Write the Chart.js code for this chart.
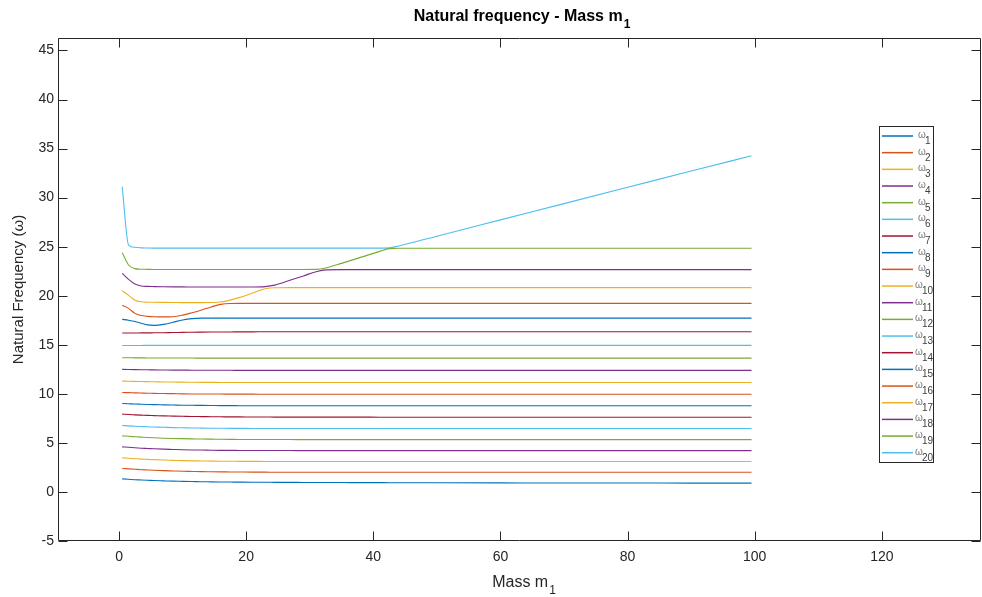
<!DOCTYPE html>
<html>
<head>
<meta charset="utf-8">
<title>Natural frequency - Mass m1</title>
<script src="https://cdn.jsdelivr.net/npm/chart.js@4.4.1/dist/chart.umd.min.js"></script>
<style>
  html, body { margin: 0; padding: 0; background: #ffffff; }
  #freqChart { display: block; }
</style>
</head>
<body>
<canvas id="freqChart" width="982" height="597"></canvas>
<script>
// mass m1 sample points (x axis)
const mass = [0.5, 1.5, 2.5, 3.5, 4.5, 5.5, 7, 8.5, 10, 11.5, 13,
  14.5, 16, 17.5, 19, 21, 23, 24.5, 27, 29, 31, 32.5,
  35, 38, 41, 42.5, 44, 50, 60, 70, 80, 90, 99.5];

// natural frequencies, one array per mode
const w1 = [1.33, 1.29, 1.25, 1.22, 1.19, 1.16, 1.13, 1.10, 1.08, 1.06, 1.04,
  1.03, 1.02, 1.01, 1.00, 0.99, 0.99, 0.98, 0.98, 0.97, 0.97, 0.96,
  0.96, 0.95, 0.95, 0.94, 0.94, 0.93, 0.92, 0.91, 0.91, 0.90, 0.90];
const w2 = [2.39, 2.35, 2.31, 2.27, 2.24, 2.21, 2.17, 2.14, 2.11, 2.09, 2.07,
  2.06, 2.05, 2.04, 2.03, 2.02, 2.02, 2.01, 2.01, 2.01, 2.00, 2.00,
  2.00, 2.00, 2.00, 2.00, 2.00, 2.00, 2.00, 2.00, 2.00, 2.00, 2.00];
const w3 = [3.47, 3.43, 3.39, 3.35, 3.32, 3.29, 3.25, 3.22, 3.19, 3.17, 3.16,
  3.14, 3.13, 3.13, 3.12, 3.12, 3.11, 3.11, 3.10, 3.10, 3.10, 3.10,
  3.10, 3.10, 3.10, 3.10, 3.10, 3.10, 3.10, 3.10, 3.10, 3.10, 3.10];
const w4 = [4.59, 4.55, 4.50, 4.46, 4.43, 4.40, 4.36, 4.33, 4.30, 4.28, 4.27,
  4.25, 4.24, 4.24, 4.23, 4.23, 4.22, 4.22, 4.22, 4.21, 4.21, 4.21,
  4.21, 4.21, 4.21, 4.21, 4.21, 4.21, 4.21, 4.21, 4.21, 4.21, 4.21];
const w5 = [5.72, 5.67, 5.63, 5.59, 5.55, 5.52, 5.48, 5.45, 5.43, 5.41, 5.39,
  5.38, 5.37, 5.36, 5.35, 5.35, 5.34, 5.34, 5.34, 5.33, 5.33, 5.33,
  5.33, 5.33, 5.33, 5.33, 5.33, 5.33, 5.33, 5.33, 5.33, 5.33, 5.33];
const w6 = [6.77, 6.73, 6.70, 6.67, 6.64, 6.62, 6.59, 6.56, 6.54, 6.52, 6.51,
  6.50, 6.49, 6.48, 6.48, 6.47, 6.47, 6.47, 6.46, 6.46, 6.46, 6.46,
  6.46, 6.46, 6.46, 6.46, 6.46, 6.46, 6.46, 6.46, 6.46, 6.46, 6.46];
const w7 = [7.93, 7.89, 7.86, 7.83, 7.80, 7.78, 7.75, 7.73, 7.71, 7.69, 7.68,
  7.67, 7.66, 7.65, 7.65, 7.64, 7.64, 7.63, 7.63, 7.63, 7.63, 7.63,
  7.63, 7.63, 7.62, 7.62, 7.62, 7.62, 7.62, 7.61, 7.61, 7.61, 7.61];
const w8 = [9.02, 8.99, 8.96, 8.94, 8.92, 8.90, 8.88, 8.86, 8.84, 8.83, 8.82,
  8.81, 8.80, 8.80, 8.79, 8.79, 8.79, 8.78, 8.78, 8.78, 8.78, 8.78,
  8.78, 8.78, 8.78, 8.78, 8.78, 8.78, 8.78, 8.78, 8.78, 8.78, 8.78];
const w9 = [10.14, 10.12, 10.10, 10.08, 10.06, 10.05, 10.03, 10.02, 10.00, 9.99, 9.99,
  9.98, 9.98, 9.97, 9.97, 9.97, 9.96, 9.96, 9.96, 9.96, 9.96, 9.96,
  9.96, 9.96, 9.96, 9.96, 9.96, 9.96, 9.96, 9.96, 9.96, 9.96, 9.96];
const w10 = [11.30, 11.28, 11.27, 11.25, 11.24, 11.23, 11.21, 11.20, 11.19, 11.18, 11.17,
  11.17, 11.16, 11.16, 11.16, 11.15, 11.15, 11.15, 11.15, 11.15, 11.15, 11.15,
  11.15, 11.15, 11.15, 11.15, 11.15, 11.15, 11.15, 11.15, 11.15, 11.15, 11.15];
const w11 = [12.49, 12.48, 12.47, 12.46, 12.45, 12.44, 12.43, 12.42, 12.42, 12.41, 12.41,
  12.40, 12.40, 12.40, 12.39, 12.39, 12.39, 12.39, 12.39, 12.39, 12.39, 12.39,
  12.39, 12.39, 12.39, 12.39, 12.39, 12.39, 12.39, 12.39, 12.39, 12.39, 12.39];
const w12 = [13.68, 13.68, 13.67, 13.67, 13.66, 13.66, 13.66, 13.65, 13.65, 13.65, 13.64,
  13.64, 13.64, 13.64, 13.64, 13.64, 13.64, 13.64, 13.64, 13.64, 13.64, 13.64,
  13.64, 13.64, 13.64, 13.64, 13.64, 13.64, 13.64, 13.64, 13.64, 13.64, 13.64];
const w13 = [14.93, 14.93, 14.93, 14.93, 14.94, 14.94, 14.94, 14.94, 14.94, 14.94, 14.94,
  14.94, 14.94, 14.94, 14.94, 14.94, 14.94, 14.94, 14.94, 14.94, 14.94, 14.94,
  14.94, 14.94, 14.94, 14.94, 14.94, 14.94, 14.94, 14.94, 14.94, 14.94, 14.94];
const w14 = [16.20, 16.20, 16.20, 16.21, 16.21, 16.22, 16.23, 16.25, 16.26, 16.28, 16.29,
  16.30, 16.31, 16.31, 16.32, 16.32, 16.33, 16.33, 16.33, 16.33, 16.33, 16.33,
  16.33, 16.33, 16.33, 16.33, 16.33, 16.33, 16.33, 16.33, 16.33, 16.33, 16.33];
const w15 = [17.59, 17.50, 17.38, 17.20, 17.03, 16.98, 17.08, 17.30, 17.53, 17.67, 17.72,
  17.72, 17.72, 17.72, 17.72, 17.72, 17.72, 17.72, 17.72, 17.72, 17.72, 17.72,
  17.72, 17.72, 17.72, 17.72, 17.72, 17.72, 17.72, 17.72, 17.72, 17.72, 17.72];
const w16 = [19.02, 18.71, 18.20, 17.98, 17.90, 17.86, 17.84, 17.86, 18.02, 18.27, 18.55,
  18.86, 19.12, 19.21, 19.22, 19.22, 19.22, 19.22, 19.22, 19.22, 19.22, 19.22,
  19.22, 19.22, 19.22, 19.22, 19.22, 19.22, 19.22, 19.22, 19.22, 19.22, 19.22];
const w17 = [20.51, 20.04, 19.55, 19.38, 19.34, 19.33, 19.32, 19.31, 19.30, 19.30, 19.30,
  19.31, 19.36, 19.55, 19.83, 20.28, 20.72, 20.82, 20.83, 20.83, 20.83, 20.83,
  20.83, 20.83, 20.83, 20.83, 20.83, 20.83, 20.83, 20.83, 20.83, 20.83, 20.83];
const w18 = [22.28, 21.67, 21.20, 21.00, 20.95, 20.93, 20.91, 20.90, 20.90, 20.89, 20.89,
  20.89, 20.89, 20.89, 20.89, 20.89, 20.93, 21.08, 21.60, 22.02, 22.45, 22.64,
  22.66, 22.66, 22.66, 22.66, 22.66, 22.66, 22.66, 22.66, 22.66, 22.66, 22.66];
const w19 = [24.39, 23.13, 22.76, 22.70, 22.69, 22.68, 22.68, 22.68, 22.68, 22.68, 22.68,
  22.68, 22.68, 22.68, 22.68, 22.68, 22.68, 22.68, 22.68, 22.68, 22.69, 22.82,
  23.30, 23.91, 24.52, 24.80, 24.84, 24.84, 24.84, 24.84, 24.84, 24.84, 24.84];
const w20 = [31.10, 25.17, 24.94, 24.88, 24.86, 24.85, 24.85, 24.85, 24.85, 24.85, 24.85,
  24.85, 24.85, 24.85, 24.85, 24.85, 24.85, 24.85, 24.85, 24.85, 24.85, 24.85,
  24.85, 24.85, 24.85, 24.88, 25.07, 26.07, 27.73, 29.39, 31.05, 32.71, 34.26];

const modes = [w1, w2, w3, w4, w5, w6, w7, w8, w9, w10, w11, w12, w13, w14, w15, w16, w17, w18, w19, w20];

// default line color order, repeats every 7 series
const palette = ["#0072BD", "#D95319", "#EDB120", "#7E2F8E", "#77AC30", "#4DBEEE", "#A2142F"];

const FONT = "'Liberation Sans', Arial, Helvetica, sans-serif";
const AXIS_COLOR = "#262626";

// text with a lowered subscript, e.g. m with 1
function drawSubText(ctx, base, sub, x, y, size, subSize, bold, align) {
  const weight = bold ? "bold " : "";
  ctx.font = weight + size + "px " + FONT;
  const wBase = ctx.measureText(base).width;
  ctx.font = weight + subSize + "px " + FONT;
  const wSub = ctx.measureText(sub).width;
  let start = x;
  if (align === "center") start = x - (wBase + wSub) / 2;
  ctx.textAlign = "left";
  ctx.textBaseline = "alphabetic";
  ctx.font = weight + size + "px " + FONT;
  ctx.fillText(base, start, y);
  ctx.font = weight + subSize + "px " + FONT;
  ctx.fillText(sub, start + wBase + 1, y + size * 0.45);
}

// box around the axes, inward tick marks, titles and the legend
const axesDecor = {
  id: "axesDecor",
  afterDraw(chart) {
    const ctx = chart.ctx;
    const area = chart.chartArea;
    const xs = chart.scales.x;
    const ys = chart.scales.y;
    const L = Math.round(area.left) + 0.5;
    const R = Math.round(area.right) - 0.5;
    const T = Math.round(area.top) + 0.5;
    const B = Math.round(area.bottom) - 0.5;
    const tick = 9;

    ctx.save();
    ctx.strokeStyle = AXIS_COLOR;
    ctx.lineWidth = 1;
    ctx.beginPath();
    ctx.rect(L, T, R - L, B - T);
    xs.ticks.forEach((t) => {
      const px = Math.round(xs.getPixelForValue(t.value)) + 0.5;
      ctx.moveTo(px, B); ctx.lineTo(px, B - tick);
      ctx.moveTo(px, T); ctx.lineTo(px, T + tick);
    });
    ys.ticks.forEach((t) => {
      const py = Math.round(ys.getPixelForValue(t.value)) + 0.5;
      ctx.moveTo(L, py); ctx.lineTo(L + tick, py);
      ctx.moveTo(R, py); ctx.lineTo(R - tick, py);
    });
    ctx.stroke();

    // title and axis labels
    const cx = (area.left + area.right) / 2;
    ctx.fillStyle = "#000000";
    drawSubText(ctx, "Natural frequency - Mass m", "1", cx + 2, 21, 16, 12, true, "center");
    ctx.fillStyle = AXIS_COLOR;
    drawSubText(ctx, "Mass m", "1", cx + 4, 587, 16, 12, false, "center");

    ctx.save();
    ctx.translate(23, (area.top + area.bottom) / 2);
    ctx.rotate(-Math.PI / 2);
    ctx.font = "15px " + FONT;
    ctx.textAlign = "center";
    ctx.textBaseline = "alphabetic";
    ctx.fillText("Natural Frequency (\u03C9)", 0, 0);
    ctx.restore();

    // legend
    const lx = 879.5, ly = 126.5, lw = 54, lh = 336;
    ctx.fillStyle = "#ffffff";
    ctx.fillRect(lx, ly, lw, lh);
    ctx.strokeStyle = AXIS_COLOR;
    ctx.strokeRect(lx, ly, lw, lh);
    chart.data.datasets.forEach((ds, i) => {
      const rowY = 136 + i * 16.67;
      ctx.strokeStyle = ds.borderColor;
      ctx.lineWidth = 1.5;
      ctx.beginPath();
      ctx.moveTo(882, rowY);
      ctx.lineTo(913, rowY);
      ctx.stroke();
      const num = String(i + 1);
      const tx = num.length > 1 ? 915 : 918;
      ctx.textAlign = "left";
      ctx.textBaseline = "alphabetic";
      ctx.fillStyle = "#7a7a7a";
      ctx.font = "10px " + FONT;
      ctx.fillText("\u03C9", tx, rowY + 2);
      ctx.fillStyle = "#404040";
      ctx.font = "10px " + FONT;
      ctx.fillText(num, tx + 7, rowY + 8);
    });
    ctx.restore();
  }
};

function buildDatasets() {
  return modes.map((vals, i) => ({
    label: "\u03C9" + (i + 1),
    data: mass.map((m, k) => ({ x: m, y: vals[k] })),
    borderColor: palette[i % palette.length],
    borderWidth: 1.1,
    pointRadius: 0,
    fill: false,
    cubicInterpolationMode: "monotone"
  }));
}

function renderChart() {
  const ctx = document.getElementById("freqChart");
  new Chart(ctx, {
    type: "line",
    data: { datasets: buildDatasets() },
    options: {
      responsive: false,
      animation: false,
      devicePixelRatio: 1,
      layout: { padding: { top: 38, right: 1, left: 0, bottom: 0 } },
      plugins: {
        legend: { display: false },
        title: { display: false },
        tooltip: { enabled: false }
      },
      scales: {
        x: {
          type: "linear",
          min: -9.6,
          max: 135.6,
          grid: { display: false, drawTicks: false },
          border: { display: false },
          ticks: {
            stepSize: 20,
            includeBounds: false,
            padding: 8,
            color: AXIS_COLOR,
            font: { family: FONT, size: 14 },
            maxRotation: 0
          },
          afterFit: (scale) => { scale.height = 56; }
        },
        y: {
          type: "linear",
          min: -5,
          max: 46.27,
          grid: { display: false, drawTicks: false },
          border: { display: false },
          ticks: {
            stepSize: 5,
            includeBounds: false,
            padding: 4,
            color: AXIS_COLOR,
            font: { family: FONT, size: 14 }
          },
          afterFit: (scale) => { scale.width = 58; }
        }
      }
    },
    plugins: [axesDecor]
  });
}

renderChart();
</script>
</body>
</html>
